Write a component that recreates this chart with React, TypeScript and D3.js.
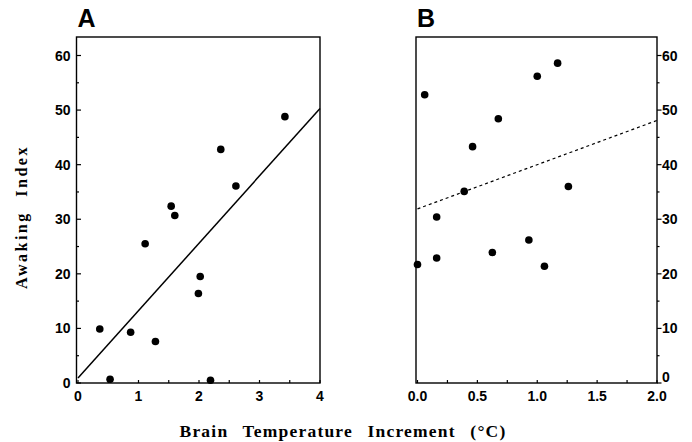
import React from "react";
import * as d3 from "d3";

// Panel A: brain temperature increment (°C) vs awaking index
const aTemp = [3.42, 2.36, 2.61, 1.54, 1.6, 1.11, 2.02, 1.99, 0.36, 0.87, 1.28, 0.53, 2.19];
const aIndex = [48.8, 42.8, 36.1, 32.4, 30.7, 25.5, 19.5, 16.4, 9.9, 9.3, 7.6, 0.7, 0.5];
const aFit = [0.9, 12.35]; // intercept, slope

// Panel B
const bTemp = [0.06, 1.0, 1.17, 0.675, 0.46, 0.39, 1.26, 0.16, 0.0, 0.16, 0.625, 0.93, 1.06];
const bIndex = [52.8, 56.2, 58.6, 48.4, 43.3, 35.1, 36.0, 30.4, 21.7, 22.9, 23.9, 26.2, 21.4];
const bFit = [31.9, 8.1];

const yTicks = [0, 10, 20, 30, 40, 50, 60];
const aXTicks = [0, 1, 2, 3, 4];
const bXTicks = [0, 0.5, 1.0, 1.5, 2.0];

const sans = "'Liberation Sans', Arial, sans-serif";
const serif = "'Liberation Serif', 'Times New Roman', serif";

type PanelProps = {
  xs: number[];
  ys: number[];
  fit: number[];
  xDomain: [number, number];
  xRange: [number, number];
  xTicks: number[];
  xMinorStep: number;
  xFmt: (v: number) => string;
  yAxisRight: boolean;
  dashed: boolean;
  letter: string;
};

const yTop = 37;
const yBottom = 383;

function Panel(p: PanelProps) {
  const x = d3.scaleLinear().domain(p.xDomain).range(p.xRange);
  const y = d3.scaleLinear().domain([0, 60]).range([383, 55.5]);
  const [x0, x1] = p.xRange;
  const left = x0 - 1.5;
  const right = x1;
  const minorY = d3.range(0, 61, 5);
  const minorX = d3.range(p.xDomain[0], p.xDomain[1] + 1e-9, p.xMinorStep);
  const line = d3
    .line<number>()
    .x((v) => x(v))
    .y((v) => y(p.fit[0] + p.fit[1] * v));
  const axisX = p.yAxisRight ? right : left;
  // left axis ticks point inward, right axis ticks point outward
  const dir = 1;
  return (
    <g>
      <text x={left + 1} y={27} fontFamily={sans} fontWeight="bold" fontSize={25}>
        {p.letter}
      </text>
      <rect
        x={left}
        y={yTop}
        width={right - left}
        height={yBottom - yTop}
        fill="none"
        stroke="#000"
        strokeWidth={1.4}
      />
      {minorY.map((v) => (
        <line
          key={"ym" + v}
          x1={axisX}
          x2={axisX + dir * (v % 10 === 0 ? 4.5 : 2.5)}
          y1={y(v)}
          y2={y(v)}
          stroke="#000"
          strokeWidth={1.2}
        />
      ))}
      {yTicks.map((v) => (
        <text
          key={"yl" + v}
          x={p.yAxisRight ? axisX + 5 : axisX - 6}
          y={y(v)}
          dy={v === 0 && p.yAxisRight ? "-0.05em" : "0.36em"}
          textAnchor={p.yAxisRight ? "start" : "end"}
          fontFamily={sans}
          fontWeight="bold"
          fontSize={14}
        >
          {v}
        </text>
      ))}
      {minorX.map((v, i) => (
        <line
          key={"xm" + i}
          x1={x(v)}
          x2={x(v)}
          y1={yBottom}
          y2={yBottom - 3}
          stroke="#000"
          strokeWidth={1.2}
        />
      ))}
      {p.xTicks.map((v) => (
        <text
          key={"xl" + v}
          x={x(v)}
          y={yBottom + 17.5}
          textAnchor="middle"
          fontFamily={sans}
          fontWeight="bold"
          fontSize={14}
        >
          {p.xFmt(v)}
        </text>
      ))}
      <path
        d={line(p.xDomain) || ""}
        fill="none"
        stroke="#000"
        strokeWidth={p.dashed ? 1.2 : 1.5}
        strokeDasharray={p.dashed ? "3,3" : undefined}
      />
      {p.xs.map((v, i) => (
        <circle key={"pt" + i} cx={x(v)} cy={y(p.ys[i])} r={3.8} fill="#000" />
      ))}
    </g>
  );
}

export default function App() {
  return (
    <svg
      width={692}
      height={442}
      style={{ position: "absolute", left: 0, top: 0, background: "#fff" }}
    >
      <rect width={692} height={442} fill="#fff" />
      <Panel
        xs={aTemp}
        ys={aIndex}
        fit={aFit}
        xDomain={[0, 4]}
        xRange={[78, 320]}
        xTicks={aXTicks}
        xMinorStep={0.5}
        xFmt={(v) => d3.format("d")(v)}
        yAxisRight={false}
        dashed={false}
        letter="A"
      />
      <Panel
        xs={bTemp}
        ys={bIndex}
        fit={bFit}
        xDomain={[0, 2]}
        xRange={[417.5, 657]}
        xTicks={bXTicks}
        xMinorStep={0.25}
        xFmt={(v) => d3.format(".1f")(v)}
        yAxisRight={true}
        dashed={true}
        letter="B"
      />
      <text
        transform="translate(27,217) rotate(-90)"
        textAnchor="middle"
        fontFamily={serif}
        fontWeight="bold"
        fontSize={16}
        letterSpacing={2.5}
        wordSpacing={8}
      >
        Awaking Index
      </text>
      <text
        x={343}
        y={437}
        textAnchor="middle"
        fontFamily={serif}
        fontWeight="bold"
        fontSize={17.5}
        letterSpacing={1.2}
        wordSpacing={9}
      >
        Brain Temperature Increment (°C)
      </text>
    </svg>
  );
}
